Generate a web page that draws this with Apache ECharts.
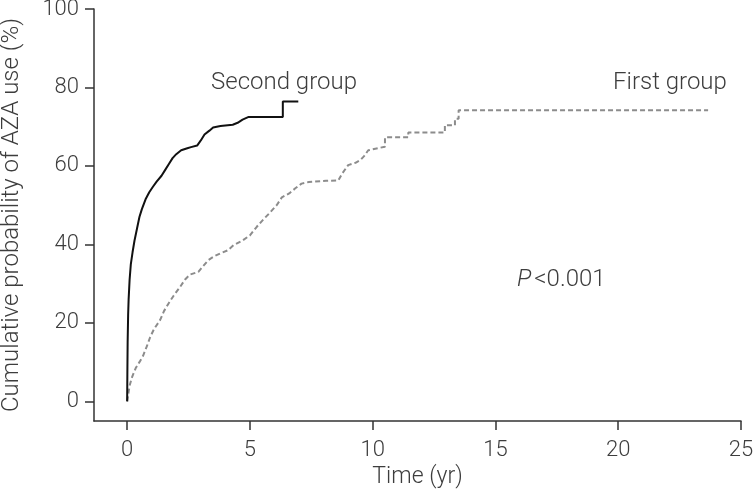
<!DOCTYPE html>
<html>
<head>
<meta charset="utf-8">
<script src="https://cdn.jsdelivr.net/npm/echarts@6/dist/echarts.min.js"></script>
<style>
  html, body { margin: 0; padding: 0; background: #fff; }
  #chart { width: 753px; height: 494px; }
</style>
</head>
<body>
<div id="chart"></div>
<script>
// time (yr) and cumulative probability (%);
// repeated times mark the visible vertical jumps of the step curves
var secondTime = [0, 0.01, 0.02, 0.04, 0.06, 0.1, 0.15, 0.22, 0.3, 0.4, 0.5, 0.6, 0.75, 0.9, 1.05, 1.2, 1.4, 1.55, 1.7, 1.85, 2.0, 2.2, 2.45, 2.6, 2.85, 3.0, 3.15, 3.35, 3.5, 3.8, 4.3, 4.5, 4.7, 4.95, 6.34, 6.34, 6.97];
var secondProb = [0, 8, 15, 22, 26, 31, 35, 38, 41, 44, 47, 49, 51.5, 53.3, 54.7, 56, 57.5, 59, 60.5, 62, 63, 64, 64.5, 64.8, 65.2, 66.5, 68, 69, 69.8, 70.2, 70.5, 71, 71.8, 72.5, 72.5, 76.4, 76.4];

var firstTime = [0, 0.05, 0.1, 0.2, 0.35, 0.5, 0.64, 0.8, 0.94, 1.1, 1.34, 1.5, 1.68, 1.9, 2.16, 2.35, 2.55, 2.9, 3.1, 3.31, 3.55, 3.79, 4.1, 4.33, 4.7, 5.0, 5.28, 5.55, 5.8, 6.09, 6.3, 6.6, 6.85, 7.1, 7.4, 8.1, 8.6, 8.75, 9.0, 9.3, 9.5, 9.65, 9.82, 10.5, 10.5, 11.45, 11.45, 12.94, 12.94, 13.35, 13.35, 13.5, 13.5, 23.66];
var firstProb = [0, 2, 4, 6.2, 8.5, 10, 11.5, 14, 16.4, 18.5, 20.7, 23, 24.9, 27, 29.2, 31, 32.3, 33, 34.5, 36, 37, 37.7, 38.5, 39.8, 41, 42.3, 44.5, 46.4, 48, 50, 52, 53, 54.3, 55.5, 55.9, 56.2, 56.3, 58, 60.2, 60.8, 61.5, 62.5, 64, 64.9, 67.3, 67.3, 68.5, 68.5, 70.4, 70.4, 72, 72, 74.2, 74.2];

var xTicks = [0, 5, 10, 15, 20, 25];
var yTicks = [0, 20, 40, 60, 80, 100];

function pairs(xs, ys) {
    var out = [];
    for (var i = 0; i < xs.length; i++) out.push([xs[i], ys[i]]);
    return out;
}

var font = 'Roboto, "Liberation Sans", sans-serif';
var textColor = '#3d3d3d';
var axisColor = '#333';

var chart = echarts.init(document.getElementById('chart'));
chart.setOption({
    animation: false,
    grid: { left: 94, right: 12, top: 9, bottom: 73, outerBoundsMode: 'none' },
    xAxis: {
        type: 'value',
        min: -1.35,
        max: 25,
        name: 'Time (yr)',
        nameLocation: 'middle',
        nameGap: 45,
        nameTextStyle: { fontFamily: font, fontWeight: 300, fontSize: 23, color: textColor },
        axisLine: { onZero: false, lineStyle: { color: axisColor, width: 1.5 } },
        axisTick: { show: true, length: 9, customValues: xTicks, lineStyle: { color: axisColor, width: 1.5 } },
        axisLabel: { customValues: xTicks, margin: 18, fontFamily: font, fontWeight: 300, fontSize: 22, color: textColor },
        splitLine: { show: false }
    },
    yAxis: {
        type: 'value',
        min: -5,
        max: 100,
        name: 'Cumulative probability of AZA use (%)',
        nameLocation: 'middle',
        nameGap: 70,
        nameTextStyle: { fontFamily: font, fontWeight: 300, fontSize: 24, color: textColor },
        axisLine: { show: true, onZero: false, lineStyle: { color: axisColor, width: 1.5 } },
        axisTick: { show: true, length: 9, customValues: yTicks, lineStyle: { color: axisColor, width: 1.5 } },
        axisLabel: { customValues: yTicks, margin: 15, fontFamily: font, fontWeight: 300, fontSize: 22, color: textColor },
        splitLine: { show: false }
    },
    series: [
        {
            name: 'First group',
            type: 'line',
            showSymbol: false,
            data: pairs(firstTime, firstProb),
            lineStyle: { color: '#8c8c8c', width: 2, type: [5, 3] }
        },
        {
            name: 'Second group',
            type: 'line',
            showSymbol: false,
            data: pairs(secondTime, secondProb),
            lineStyle: { color: '#111', width: 2 }
        }
    ],
    graphic: [
        {
            type: 'text', left: 211, top: 71,
            style: { text: 'Second group', fontFamily: font, fontWeight: 300, fontSize: 24, fill: textColor }
        },
        {
            type: 'text', left: 613, top: 71,
            style: { text: 'First group', fontFamily: font, fontWeight: 300, fontSize: 24, fill: textColor }
        },
        {
            type: 'text', left: 517, top: 268,
            style: {
                text: '{i|P}<0.001',
                fontFamily: font, fontWeight: 300, fontSize: 24, fill: textColor,
                rich: { i: { fontStyle: 'italic', fontFamily: font, fontWeight: 300, fontSize: 24, fill: textColor, padding: [0, 3, 0, 0] } }
            }
        }
    ]
});
</script>
</body>
</html>
